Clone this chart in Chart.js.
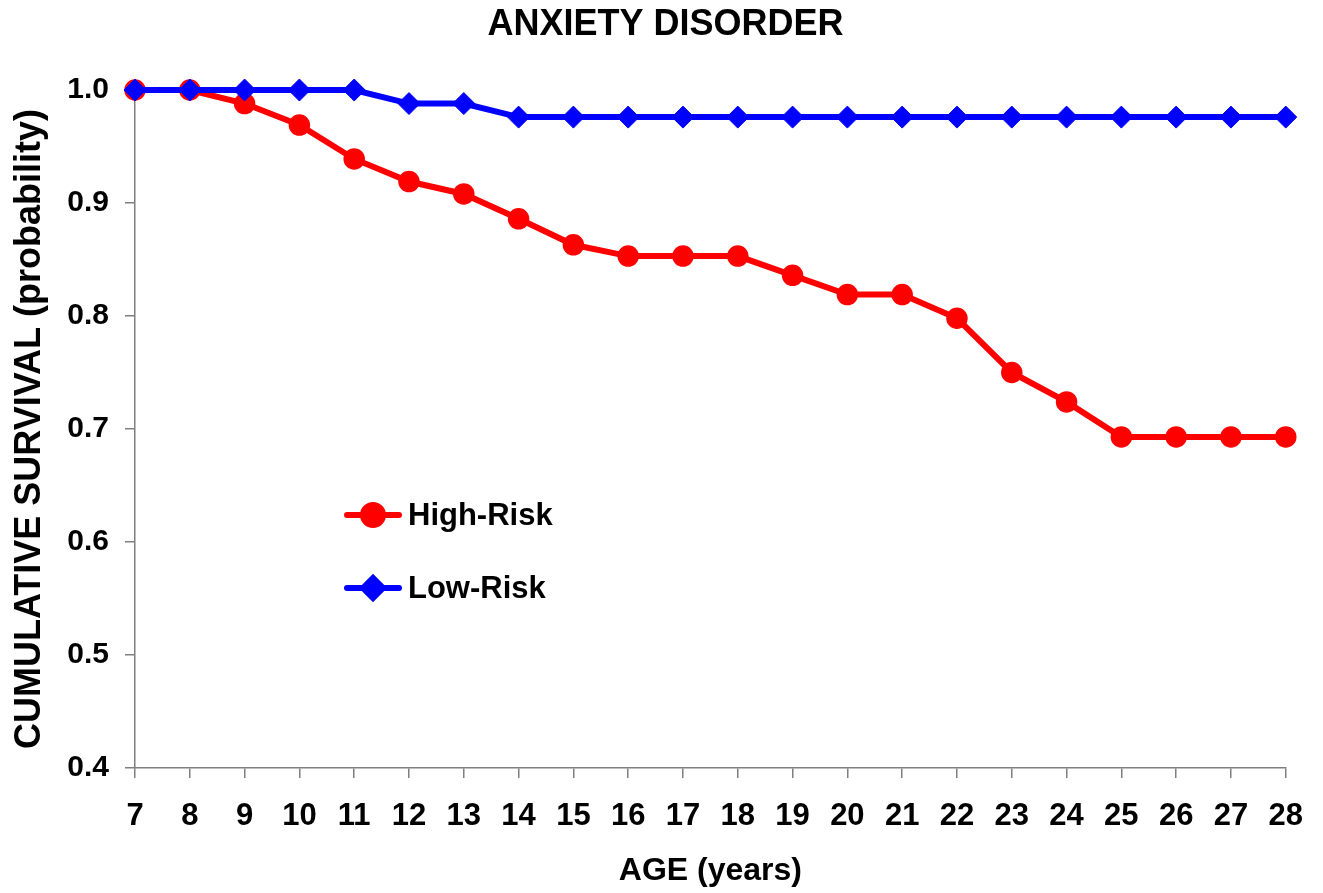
<!DOCTYPE html>
<html>
<head>
<meta charset="utf-8">
<script src="https://cdn.jsdelivr.net/npm/chart.js@4"></script>
<style>
  html, body { margin: 0; padding: 0; background: #fff; }
  #wrap { width: 1323px; height: 893px; }
</style>
</head>
<body>
<div id="wrap"><canvas id="survival"></canvas></div>
<script>
const ages = [7, 8, 9, 10, 11, 12, 13, 14, 15, 16, 17, 18, 19, 20, 21, 22, 23, 24, 25, 26, 27, 28];
const highRisk = [1.0, 1.0, 0.988, 0.969, 0.939, 0.919, 0.908, 0.886, 0.863, 0.853, 0.853, 0.853, 0.836, 0.819, 0.819, 0.798, 0.750, 0.724, 0.693, 0.693, 0.693, 0.693];
const lowRisk = [1.0, 1.0, 1.0, 1.0, 1.0, 0.988, 0.988, 0.976, 0.976, 0.976, 0.976, 0.976, 0.976, 0.976, 0.976, 0.976, 0.976, 0.976, 0.976, 0.976, 0.976, 0.976];
const yTicks = [0.4, 0.5, 0.6, 0.7, 0.8, 0.9, 1.0];
const chartTitle = "ANXIETY DISORDER";

const FONT = "'Liberation Sans', Arial, sans-serif";
const axisGray = "#7f7f7f";

// title centred on the page (not on the padded layout box)
const pageTitle = {
  id: "pageTitle",
  afterDraw(chart) {
    const ctx = chart.ctx;
    ctx.save();
    ctx.fillStyle = "#000";
    ctx.font = "bold 36px " + FONT;
    ctx.textAlign = "center";
    ctx.textBaseline = "middle";
    ctx.fillText(chartTitle, chart.width / 2 + 4, 25);
    ctx.restore();
  },
};

// legend drawn inside the plot, like the original
const insideLegend = {
  id: "insideLegend",
  afterDraw(chart) {
    const ctx = chart.ctx;
    const items = [
      { text: "High-Risk", color: "#ff0000", style: "circle", y: 515 },
      { text: "Low-Risk", color: "#0000ff", style: "rectRot", y: 588 },
    ];
    ctx.save();
    items.forEach((it) => {
      ctx.strokeStyle = it.color;
      ctx.lineWidth = 6;
      ctx.lineCap = "round";
      ctx.beginPath();
      ctx.moveTo(347, it.y);
      ctx.lineTo(399, it.y);
      ctx.stroke();
      ctx.fillStyle = it.color;
      Chart.helpers.drawPoint(ctx, { pointStyle: it.style, radius: 10, rotation: 0, borderWidth: 1 }, 373, it.y);
      ctx.fill();
      ctx.fillStyle = "#000";
      ctx.font = "bold 31px " + FONT;
      ctx.textBaseline = "middle";
      ctx.textAlign = "left";
      ctx.fillText(it.text, 408, it.y + 1);
    });
    ctx.restore();
  },
};

const ctx = document.getElementById("survival").getContext("2d");
const survival = new Chart(ctx, {
  type: "line",
  data: {
    labels: ages,
    datasets: [
      {
        label: "High-Risk",
        data: ages.map((a, i) => ({ x: a, y: highRisk[i] })),
        borderColor: "#ff0000",
        backgroundColor: "#ff0000",
        borderWidth: 6,
        pointStyle: "circle",
        pointRadius: 10,
        pointBorderWidth: 1.5,
        order: 1,
        clip: false,
      },
      {
        label: "Low-Risk",
        data: ages.map((a, i) => ({ x: a, y: lowRisk[i] })),
        borderColor: "#0000ff",
        backgroundColor: "#0000ff",
        borderWidth: 6,
        pointStyle: "rectRot",
        pointRadius: 11,
        pointBorderWidth: 1,
        order: 0,
        clip: false,
      },
    ],
  },
  options: {
    responsive: true,
    maintainAspectRatio: false,
    animation: false,
    layout: { padding: { left: 0, right: 36, top: 90, bottom: 0 } },
    plugins: {
      legend: { display: false },
      tooltip: { enabled: false },
      title: { display: false },
    },
    scales: {
      x: {
        type: "linear",
        min: 7,
        max: 28,
        afterBuildTicks(scale) {
          scale.ticks = ages.map((v) => ({ value: v }));
        },
        afterFit(scale) {
          scale.height = 125;
        },
        border: { display: true, color: axisGray, width: 1.5 },
        grid: { display: true, drawOnChartArea: false, drawTicks: true, tickLength: 10, color: axisGray, lineWidth: 1.5 },
        ticks: {
          color: "#000",
          font: { family: FONT, size: 31, weight: "bold" },
          padding: 20,
          maxRotation: 0,
          autoSkip: false,
        },
        title: {
          display: true,
          text: "AGE (years)",
          color: "#000",
          font: { family: FONT, size: 32, weight: "bold", lineHeight: 1.2 },
          padding: { top: 0, bottom: 3 },
        },
      },
      y: {
        min: 0.4,
        max: 1.0,
        afterBuildTicks(scale) {
          scale.ticks = yTicks.map((v) => ({ value: v }));
        },
        afterFit(scale) {
          scale.width = 135;
        },
        border: { display: true, color: axisGray, width: 1.5 },
        grid: { display: true, drawOnChartArea: false, drawTicks: true, tickLength: 10, color: axisGray, lineWidth: 1.5 },
        ticks: {
          color: "#000",
          font: { family: FONT, size: 30, weight: "bold" },
          padding: 16,
          callback: (v) => Number(v).toFixed(1),
        },
        title: {
          display: true,
          text: "CUMULATIVE SURVIVAL (probability)",
          color: "#000",
          font: { family: FONT, size: 36, weight: "bold", lineHeight: 1.2 },
          padding: { top: 8, bottom: 0 },
        },
      },
    },
  },
  plugins: [pageTitle, insideLegend],
});
</script>
</body>
</html>
